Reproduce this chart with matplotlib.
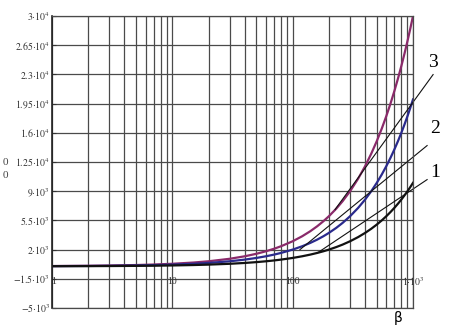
import matplotlib
matplotlib.use("Agg")
import matplotlib.pyplot as plt
import numpy as np

plt.rcParams['mathtext.fontset'] = 'stix'
plt.rcParams['font.family'] = ['Liberation Serif', 'DejaVu Serif']

# data
beta = [1, 2, 3, 5, 7, 10, 15, 20, 30, 40, 50, 60, 70, 80, 100, 120, 140,
        160, 180, 200, 230, 260, 300, 350, 400, 450, 500, 550, 600, 650, 700,
        750, 800, 850, 900, 950, 1000]
curve1 = [10, 20, 30, 50, 70, 100, 150, 200, 300, 400, 500, 600, 700, 800,
          1000, 1200, 1400, 1600, 1800, 2000, 2300, 2600, 3000, 3500, 4000,
          4500, 5000, 5500, 6000, 6500, 7000, 7500, 8000, 8500, 9000, 9500, 10000]
curve2 = [20, 40, 60, 100, 140, 200, 300, 400, 600, 800, 1000, 1200, 1400,
          1600, 2000, 2400, 2800, 3200, 3600, 4000, 4600, 5200, 6000, 7000,
          8000, 9000, 10000, 11000, 12000, 13000, 14000, 15000, 16000, 17000,
          18000, 19000, 20000]
curve3 = [30, 60, 90, 150, 210, 300, 450, 600, 900, 1200, 1500, 1800, 2100,
          2400, 3000, 3600, 4200, 4800, 5400, 6000, 6900, 7800, 9000, 10500,
          12000, 13500, 15000, 16500, 18000, 19500, 21000, 22500, 24000,
          25500, 27000, 28500, 30000]

yticks = [-5000, -1500, 2000, 5500, 9000, 12500, 16000, 19500, 23000, 26500, 30000]
ytick_labels = [r'$-5{\cdot}10^{3}$', r'$-1.5{\cdot}10^{3}$', r'$2{\cdot}10^{3}$',
                r'$5.5{\cdot}10^{3}$', r'$9{\cdot}10^{3}$', r'$1.25{\cdot}10^{4}$',
                r'$1.6{\cdot}10^{4}$', r'$1.95{\cdot}10^{4}$', r'$2.3{\cdot}10^{4}$',
                r'$2.65{\cdot}10^{4}$', r'$3{\cdot}10^{4}$']
xticks = [1, 10, 100, 1000]
xtick_labels = ['1', '10', '100', r'$1{\cdot}10^{3}$']

# leader lines
labels = ['1', '2', '3']
label_beta = [1527, 1527, 1469]
label_val = [11230, 16510, 24420]
lead_top_beta = [1310, 1310, 1469]
lead_top_val = [10390, 14470, 22980]
lead_end_beta = [162, 115, 225]
lead_end_val = [1640, 2000, 6800]

fig = plt.figure(figsize=(4.51, 3.36), dpi=100)
ax = fig.add_axes([52/451, 1-308/336, (413-52)/451, (308-16)/336])
ax.set_xscale('log')
ax.set_xlim(1, 1000)
ax.set_ylim(-5000, 30000)

gridc = '#4a4a4a'
ax.set_yticks(yticks)
ax.set_yticklabels(ytick_labels, fontsize=7)
ax.set_xticks(xticks)
ax.set_xticklabels([])
ax.xaxis.set_minor_formatter(matplotlib.ticker.NullFormatter())
ax.grid(True, which='both', axis='x', color=gridc, lw=0.9)
ax.grid(True, which='major', axis='y', color=gridc, lw=0.9)
ax.tick_params(axis='y', direction='in', length=3, pad=1.5, colors='#333333')
ax.tick_params(axis='x', which='both', length=0)
for s in ax.spines.values():
    s.set_color(gridc)
    s.set_linewidth(0.9)
ax.spines['left'].set_color('#222222')
ax.spines['left'].set_linewidth(1.2)

for b, t in zip(xticks, xtick_labels):
    ax.text(b * (1.03 if b == 1 else 1.0), -1850, t, fontsize=7, ha='center',
            va='center', color='#333333')

ax.plot(beta, curve3, color='#8a2a6a', lw=1.6)
ax.plot(beta, curve2, color='#2a2a8c', lw=1.6)
ax.plot(beta, curve1, color='#111111', lw=1.6)

for i in range(3):
    ax.plot([lead_end_beta[i], lead_top_beta[i]], [lead_end_val[i], lead_top_val[i]],
            color='#111111', lw=0.8, clip_on=False)
    ax.text(label_beta[i], label_val[i], labels[i], fontsize=14, ha='center',
            va='center', clip_on=False)

fig.text(398/451, 1-318/336, 'β', fontsize=10, ha='center', va='center',
         family=['DejaVu Sans'])
fig.text(5/451, 1-162/336, '0', fontsize=8, ha='center', va='center', color='#444444')
fig.text(5/451, 1-175/336, '0', fontsize=8, ha='center', va='center', color='#444444')

fig.savefig('out.png', dpi=100)
